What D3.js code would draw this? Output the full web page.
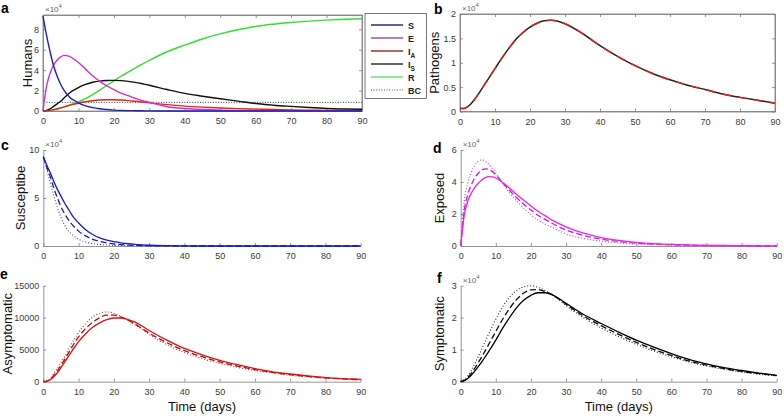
<!DOCTYPE html>
<html>
<head>
<meta charset="utf-8">
<script src="https://cdn.jsdelivr.net/npm/d3@7"></script>
<style>
  body { margin: 0; background: #fff; }
  svg { font-family: "Liberation Sans", Arial, sans-serif; }
</style>
</head>
<body>
<svg id="chart" width="784" height="416"></svg>
<script>
// Jours échantillonnés (commun à toutes les courbes)
const jours = [0,1,2,3,4,5,6,7,8,9,10,12,14,16,18,20,22,24,26,28,30,35,40,45,50,55,60,65,70,75,80,85,90];
const xTicks = [0,10,20,30,40,50,60,70,80,90];

// Panneau a : humains (x 10^4)
const humainsS  = [9.3,7.4,5.8,4.4,3.4,2.6,2.0,1.55,1.2,1.0,0.8,0.5,0.33,0.22,0.14,0.09,0.06,0.04,0.03,0.02,0.01,0,0,0,0,0,0,0,0,0,0,0,0];
const humainsE  = [0,2.4,3.7,4.5,5.0,5.3,5.45,5.4,5.25,5.0,4.75,4.1,3.45,2.9,2.45,2.1,1.75,1.5,1.25,1.02,0.85,0.42,0.24,0.14,0.08,0.05,0.03,0.02,0.01,0,0,0,0];
const humainsIA = [0,0.02,0.06,0.13,0.22,0.31,0.41,0.5,0.6,0.68,0.76,0.9,1.0,1.07,1.1,1.1,1.07,1.02,0.95,0.88,0.8,0.62,0.48,0.38,0.3,0.23,0.18,0.14,0.1,0.08,0.06,0.04,0.03];
const humainsIS = [0,0.05,0.2,0.45,0.7,0.95,1.3,1.62,1.9,2.1,2.3,2.6,2.82,2.93,2.98,3.0,2.97,2.9,2.8,2.67,2.52,2.1,1.72,1.45,1.2,0.97,0.73,0.57,0.45,0.34,0.25,0.2,0.17];
const humainsR  = [0,0.01,0.05,0.11,0.2,0.29,0.4,0.52,0.65,0.77,0.9,1.2,1.6,2.05,2.5,2.95,3.4,3.8,4.2,4.58,4.95,5.8,6.45,7.05,7.55,7.95,8.28,8.5,8.67,8.8,8.9,8.98,9.03];
const bcJours = [1, 90];
const bcValeurs = [0.85, 0.85];
const legendeNoms = ["S", "E", "IA", "IS", "R", "BC"];

// Panneau b : pathogènes (x 10^4)
const pathogenes = [0.06,0.06,0.09,0.15,0.23,0.33,0.44,0.55,0.66,0.77,0.88,1.1,1.3,1.48,1.62,1.73,1.81,1.86,1.87,1.85,1.8,1.6,1.35,1.13,0.94,0.78,0.65,0.54,0.45,0.36,0.29,0.23,0.17];

// Panneau c : susceptibles (x 10^4), plein / tirets / pointillés
const suscPlein = [9.3,8.4,7.6,6.7,5.9,5.2,4.5,3.9,3.3,2.8,2.4,1.7,1.2,0.85,0.6,0.45,0.33,0.24,0.17,0.12,0.08,0.03,0.01,0,0,0,0,0,0,0,0,0,0];
const suscTiret = [9.3,8.2,7.2,6.0,5.0,4.1,3.4,2.8,2.3,1.9,1.55,1.05,0.7,0.48,0.33,0.22,0.15,0.1,0.07,0.05,0.03,0.01,0,0,0,0,0,0,0,0,0,0,0];
const suscPoint = [9.3,8.0,6.5,5.2,4.0,3.0,2.2,1.65,1.25,0.95,0.7,0.42,0.25,0.15,0.1,0.06,0.04,0.03,0.02,0.01,0,0,0,0,0,0,0,0,0,0,0,0,0];

// Panneau d : exposés (x 10^4)
const expoPlein = [0,1.9,2.8,3.3,3.65,3.92,4.12,4.27,4.33,4.32,4.25,3.95,3.6,3.2,2.85,2.5,2.17,1.9,1.62,1.4,1.2,0.8,0.53,0.35,0.23,0.15,0.1,0.07,0.04,0.03,0.02,0.01,0.01];
const expoTiret = [0,2.2,3.2,3.8,4.25,4.55,4.75,4.82,4.78,4.65,4.45,3.95,3.45,3.0,2.6,2.25,1.92,1.66,1.42,1.2,1.0,0.66,0.43,0.28,0.18,0.12,0.08,0.05,0.03,0.02,0.01,0,0];
const expoPoint = [0,2.8,3.9,4.6,5.05,5.3,5.38,5.3,5.1,4.85,4.55,3.9,3.3,2.8,2.35,1.95,1.62,1.38,1.17,0.95,0.75,0.47,0.3,0.19,0.12,0.08,0.05,0.03,0.02,0.01,0,0,0];

// Panneau e : asymptomatiques
const asymPlein = [0,50,300,800,1400,2200,3000,3850,4700,5500,6250,7500,8500,9200,9700,9950,9950,9700,9300,8700,8000,6500,5200,4200,3350,2650,2050,1550,1200,900,650,480,350];
const asymTiret = [0,80,400,1000,1700,2550,3400,4350,5300,6200,7000,8300,9300,10000,10400,10400,10100,9600,9000,8300,7600,6100,4850,3900,3100,2450,1900,1450,1100,820,600,440,320];
const asymPoint = [0,120,550,1300,2100,3000,3900,4900,5900,6800,7700,9100,10100,10700,10900,10700,10200,9600,8900,8200,7400,5800,4550,3600,2850,2250,1750,1350,1000,750,550,400,290];

// Panneau f : symptomatiques (x 10^4)
const sympPlein = [0,0.03,0.1,0.2,0.33,0.47,0.62,0.78,0.95,1.12,1.3,1.68,2.02,2.32,2.55,2.7,2.78,2.78,2.72,2.6,2.45,2.1,1.82,1.55,1.3,1.08,0.88,0.7,0.56,0.44,0.35,0.27,0.2];
const sympTiret = [0,0.04,0.13,0.26,0.42,0.6,0.78,0.97,1.17,1.37,1.57,1.96,2.3,2.58,2.77,2.87,2.88,2.82,2.72,2.58,2.42,2.05,1.75,1.48,1.23,1.01,0.82,0.65,0.52,0.41,0.32,0.25,0.19];
const sympPoint = [0,0.06,0.18,0.35,0.56,0.79,1.02,1.26,1.5,1.73,1.95,2.35,2.65,2.86,2.97,3.0,2.95,2.85,2.72,2.56,2.38,2.0,1.68,1.41,1.17,0.96,0.78,0.62,0.49,0.39,0.3,0.23,0.18];

const svg = d3.select("#chart");
const gris = "#7a7a7a";
const texteTick = "#3a3a3a";
const formatTick = d3.format("~g");

// Fonction pour créer un panneau (axes + libellés), renvoie les échelles
function creerPanneau(p) {
  const x = d3.scaleLinear().domain([0, 90]).range([p.x0, p.x1]);
  const y = d3.scaleLinear().domain(p.yDomain).range([p.y1, p.y0]);
  const g = svg.append("g");

  if (p.boite) {
    g.append("rect")
      .attr("x", p.x0).attr("y", p.y0)
      .attr("width", p.x1 - p.x0).attr("height", p.y1 - p.y0)
      .attr("fill", "none").attr("stroke", gris).attr("stroke-width", 0.8);
    g.append("g").attr("transform", `translate(0,${p.y0})`)
      .call(d3.axisTop(x).tickValues(xTicks).tickSize(-3).tickSizeOuter(0).tickFormat(""))
      .call(styleAxe);
    g.append("g").attr("transform", `translate(${p.x1},0)`)
      .call(d3.axisRight(y).tickValues(p.yTicks).tickSize(-3).tickSizeOuter(0).tickFormat(""))
      .call(styleAxe);
  }

  g.append("g").attr("transform", `translate(0,${p.y1})`)
    .call(d3.axisBottom(x).tickValues(xTicks).tickSize(-3).tickSizeOuter(0).tickPadding(7).tickFormat(formatTick))
    .call(styleAxe);
  g.append("g").attr("transform", `translate(${p.x0},0)`)
    .call(d3.axisLeft(y).tickValues(p.yTicks).tickSize(-3).tickSizeOuter(0).tickPadding(4).tickFormat(p.yFormat || formatTick))
    .call(styleAxe);

  // exposant x10^4
  if (p.exposant) {
    const t = g.append("text").attr("x", p.x0 + 2).attr("y", p.y0 - 3)
      .attr("font-size", 8).attr("fill", "#666").text("\u00d710");
    t.append("tspan").attr("dy", -4).attr("font-size", 6).text("4");
  }

  // titre de l'axe y
  g.append("text")
    .attr("transform", `translate(${p.labelX},${(p.y0 + p.y1) / 2}) rotate(-90)`)
    .attr("text-anchor", "middle").attr("font-size", 13).attr("fill", "#111")
    .text(p.yLabel);

  if (p.xLabel) {
    g.append("text").attr("x", (p.x0 + p.x1) / 2).attr("y", p.y1 + 29)
      .attr("text-anchor", "middle").attr("font-size", 13).attr("fill", "#111")
      .text(p.xLabel);
  }

  svg.append("text").attr("x", p.lettreX).attr("y", p.lettreY)
    .attr("font-size", 14).attr("font-weight", "bold").attr("fill", "#000")
    .text(p.lettre);

  return { x, y, g };
}

function styleAxe(sel) {
  sel.select(".domain").attr("stroke", gris).attr("stroke-width", 0.8);
  sel.selectAll(".tick line").attr("stroke", gris).attr("stroke-width", 0.8);
  sel.selectAll(".tick text").attr("fill", texteTick).attr("font-size", 9)
    .attr("font-family", "Liberation Sans, Arial, sans-serif");
}

function tracer(pan, xs, valeurs, couleur, largeur, tirets) {
  const ligne = d3.line()
    .x((d, i) => pan.x(xs[i]))
    .y((d) => pan.y(d))
    .curve(d3.curveMonotoneX);
  pan.g.append("path")
    .datum(valeurs)
    .attr("d", ligne)
    .attr("fill", "none")
    .attr("stroke", couleur)
    .attr("stroke-width", largeur)
    .attr("stroke-dasharray", tirets || null)
    .attr("stroke-linejoin", "round");
}

// ---- a ----
const pa = creerPanneau({ x0: 43, x1: 362, y0: 15, y1: 111, yDomain: [0, 9.4],
  yTicks: [0, 2, 4, 6, 8], boite: true, exposant: true, yLabel: "Humans", labelX: 32,
  lettre: "a", lettreX: 1, lettreY: 13 });
tracer(pa, bcJours, bcValeurs, "#333", 1, "1,1.6");
tracer(pa, jours, humainsR, "#33dd33", 1.4);
tracer(pa, jours, humainsIS, "#111", 1.4);
tracer(pa, jours, humainsIA, "#e02424", 1.4);
tracer(pa, jours, humainsE, "#cc33cc", 1.4);
tracer(pa, jours, humainsS, "#2020c0", 1.4);

// légende
const legende = svg.append("g");
const couleursLegende = ["#1a1a70", "#a040b8", "#8b2a2a", "#222", "#66e066", "#444"];
legende.append("rect").attr("x", 365).attr("y", 13.5).attr("width", 61.5).attr("height", 85)
  .attr("fill", "#fff").attr("stroke", "#555").attr("stroke-width", 0.8);
legendeNoms.forEach((nom, i) => {
  const yy = 25 + i * 13;
  legende.append("line").attr("x1", 371).attr("x2", 403).attr("y1", yy).attr("y2", yy)
    .attr("stroke", couleursLegende[i]).attr("stroke-width", nom === "BC" ? 1 : 1.4)
    .attr("stroke-dasharray", nom === "BC" ? "1,1.6" : null);
  const t = legende.append("text").attr("x", 408).attr("y", yy + 3.5)
    .attr("font-size", 9).attr("font-weight", "bold").attr("fill", "#222");
  if (nom === "IA" || nom === "IS") {
    t.text("I");
    t.append("tspan").attr("dy", 3).attr("font-size", 6.5).text(nom[1]);
  } else {
    t.text(nom);
  }
});

// ---- b ----
const pb = creerPanneau({ x0: 460, x1: 775, y0: 14, y1: 111.5, yDomain: [0, 2],
  yTicks: [0, 0.5, 1, 1.5, 2], boite: true, exposant: true, yLabel: "Pathogens", labelX: 439,
  lettre: "b", lettreX: 434, lettreY: 14 });
tracer(pb, jours, pathogenes, "#222", 1.5);
tracer(pb, jours, pathogenes, "#e42020", 1.5, "9,7");

// ---- c ----
const pc = creerPanneau({ x0: 43.3, x1: 360.7, y0: 150, y1: 246, yDomain: [0, 10],
  yTicks: [0, 5, 10], boite: false, exposant: true, yLabel: "Susceptibe", labelX: 25,
  lettre: "c", lettreX: 1, lettreY: 150 });
tracer(pc, jours, suscPoint, "#50507a", 1.1, "1,2");
tracer(pc, jours, suscTiret, "#1c1ca8", 1.3, "6,3");
tracer(pc, jours, suscPlein, "#1515e0", 1.3);

// ---- d ----
const pd = creerPanneau({ x0: 460.7, x1: 776.7, y0: 150, y1: 246, yDomain: [0, 6],
  yTicks: [0, 2, 4, 6], boite: false, exposant: true, yLabel: "Exposed", labelX: 444,
  lettre: "d", lettreX: 433, lettreY: 153 });
tracer(pd, jours, expoPoint, "#c040c8", 1.1, "1,2");
tracer(pd, jours, expoTiret, "#c020c8", 1.3, "6,3");
tracer(pd, jours, expoPlein, "#ee22ee", 1.3);

// ---- e ----
const pe = creerPanneau({ x0: 43.3, x1: 360.7, y0: 285.7, y1: 381.7, yDomain: [0, 15000],
  yTicks: [0, 5000, 10000, 15000], yFormat: d3.format("d"), boite: false, exposant: false,
  yLabel: "Asymptomatic", labelX: 12,
  xLabel: "Time (days)", lettre: "e", lettreX: 0, lettreY: 279 });
tracer(pe, jours, asymPoint, "#b03030", 1.1, "1,2");
tracer(pe, jours, asymTiret, "#9a1414", 1.3, "6,3");
tracer(pe, jours, asymPlein, "#e01010", 1.3);

// ---- f ----
const pf = creerPanneau({ x0: 460.7, x1: 776.7, y0: 285.7, y1: 381.7, yDomain: [0, 3],
  yTicks: [0, 1, 2, 3], boite: false, exposant: true, yLabel: "Symptomatic", labelX: 444,
  xLabel: "Time (days)", lettre: "f", lettreX: 437, lettreY: 283 });
tracer(pf, jours, sympPoint, "#222", 1.1, "1,2");
tracer(pf, jours, sympTiret, "#111", 1.3, "6,3");
tracer(pf, jours, sympPlein, "#000", 1.3);
</script>
</body>
</html>
